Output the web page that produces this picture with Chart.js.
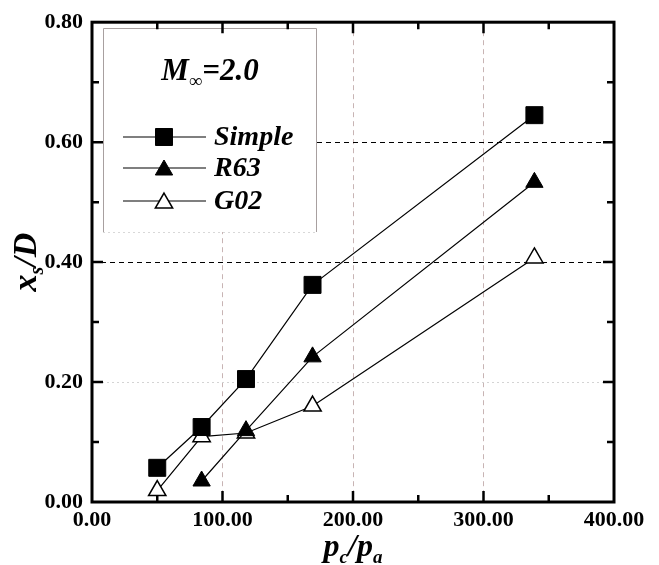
<!DOCTYPE html>
<html>
<head>
<meta charset="utf-8">
<script src="https://cdn.jsdelivr.net/npm/chart.js@4.4.0/dist/chart.umd.min.js"></script>
<style>
  html, body { margin: 0; padding: 0; background: #fff; }
  #wrap { position: relative; width: 659px; height: 565px; }
</style>
</head>
<body>
<div id="wrap"><canvas id="jetChart" width="659" height="565"></canvas></div>
<script>
// values
const pressureRatio = [50, 84, 118, 169, 339];
const simpleVals = [0.057, 0.125, 0.205, 0.362, 0.645];
const r63Vals = [null, 0.035, 0.119, 0.242, 0.533];
const g02Vals = [0.019, 0.109, 0.115, 0.16, 0.407];
const xTicks = [0, 100, 200, 300, 400];
const yTicks = [0, 0.2, 0.4, 0.6, 0.8];
const seriesNames = ["Simple", "R63", "G02"];

const SERIF = "'Liberation Serif', 'Times New Roman', serif";

function toPoints(vals) {
  return pressureRatio.map((x, i) => ({ x, y: vals[i] })).filter(p => p.y !== null);
}

// draw a run of text pieces, some of them as subscripts
function drawRich(ctx, parts, x, y, size) {
  const big = `italic bold ${size}px ${SERIF}`;
  const small = `italic bold ${Math.round(size * 0.6)}px ${SERIF}`;
  let w = 0;
  parts.forEach(p => { ctx.font = p.sub ? small : big; w += ctx.measureText(p.t).width; });
  let cx = x - w / 2;
  ctx.textAlign = "left";
  ctx.textBaseline = "alphabetic";
  parts.forEach(p => {
    ctx.font = p.sub ? small : big;
    ctx.fillText(p.t, cx, p.sub ? y + size * 0.22 : y);
    cx += ctx.measureText(p.t).width;
  });
}

const framePlugin = {
  id: "framePlugin",
  afterDatasetsDraw(chart) {
    const { ctx, chartArea: a, scales } = chart;
    const xs = scales.x, ys = scales.y;
    ctx.save();

    // legend box
    const lb = { l: 103, t: 28, r: 316, b: 232 };
    ctx.fillStyle = "#fff";
    ctx.fillRect(lb.l, lb.t, lb.r - lb.l, lb.b - lb.t);
    ctx.strokeStyle = "#a8a0a0";
    ctx.lineWidth = 1;
    ctx.beginPath();
    ctx.moveTo(lb.l + 0.5, lb.b); ctx.lineTo(lb.l + 0.5, lb.t + 0.5);
    ctx.lineTo(lb.r + 0.5, lb.t + 0.5); ctx.lineTo(lb.r + 0.5, lb.b);
    ctx.stroke();
    ctx.setLineDash([2, 3]);
    ctx.strokeStyle = "#d8d8d8";
    ctx.beginPath(); ctx.moveTo(lb.l, lb.b + 0.5); ctx.lineTo(lb.r, lb.b + 0.5); ctx.stroke();
    ctx.setLineDash([]);

    ctx.fillStyle = "#000";
    drawRich(ctx, [{ t: "M" }, { t: "\u221e", sub: true }, { t: "=2.0" }], 210, 80, 31);

    const rows = [137, 168, 201];
    chart.data.datasets.forEach((ds, i) => {
      const y = rows[i];
      ctx.strokeStyle = "#000";
      ctx.lineWidth = 1.2;
      ctx.beginPath(); ctx.moveTo(123, y); ctx.lineTo(206, y); ctx.stroke();
      ctx.fillStyle = ds.pointBackgroundColor;
      ctx.strokeStyle = ds.pointBorderColor;
      ctx.lineWidth = ds.pointBorderWidth;
      Chart.helpers.drawPoint(ctx, {
        pointStyle: ds.pointStyle, radius: ds.pointRadius, rotation: 0, borderWidth: ds.pointBorderWidth
      }, 164, y + (ds.pointStyle === "triangle" ? 2 : 0));
      ctx.fillStyle = "#000";
      ctx.font = `italic bold 28px ${SERIF}`;
      ctx.textAlign = "left";
      ctx.textBaseline = "middle";
      ctx.fillText(seriesNames[i], 214, y + 1);
    });

    // frame
    ctx.strokeStyle = "#000";
    ctx.lineWidth = 3;
    ctx.strokeRect(a.left, a.top, a.right - a.left, a.bottom - a.top);

    // inward ticks on all four sides
    ctx.lineWidth = 2.5;
    ctx.beginPath();
    for (let v = 50; v < 400; v += 50) {
      const len = v % 100 === 0 ? 11 : 7;
      const px = xs.getPixelForValue(v);
      ctx.moveTo(px, a.bottom); ctx.lineTo(px, a.bottom - len);
      ctx.moveTo(px, a.top); ctx.lineTo(px, a.top + len);
    }
    for (let k = 1; k < 8; k++) {
      const v = k / 10;
      const len = k % 2 === 0 ? 11 : 7;
      const py = ys.getPixelForValue(v);
      ctx.moveTo(a.left, py); ctx.lineTo(a.left + len, py);
      ctx.moveTo(a.right, py); ctx.lineTo(a.right - len, py);
    }
    ctx.stroke();
    ctx.restore();
  },
  afterDraw(chart) {
    const { ctx, chartArea: a } = chart;
    ctx.save();
    ctx.fillStyle = "#000";
    drawRich(ctx, [{ t: "p" }, { t: "c", sub: true }, { t: "/p" }, { t: "a", sub: true }], (a.left + a.right) / 2, 556, 32);
    ctx.translate(36, (a.top + a.bottom) / 2);
    ctx.rotate(-Math.PI / 2);
    drawRich(ctx, [{ t: "x" }, { t: "s", sub: true }, { t: "/D" }], 0, 0, 34);
    ctx.restore();
  }
};

const el = document.getElementById("jetChart");
const chart = new Chart(el.getContext("2d"), {
  type: "line",
  data: {
    datasets: [
      {
        label: seriesNames[0],
        data: toPoints(simpleVals),
        borderColor: "#000",
        borderWidth: 1.2,
        pointStyle: "rect",
        pointRadius: 12,
        pointBackgroundColor: "#000",
        pointBorderColor: "#000",
        pointBorderWidth: 1
      },
      {
        label: seriesNames[1],
        data: toPoints(r63Vals),
        borderColor: "#000",
        borderWidth: 1.2,
        pointStyle: "triangle",
        pointRadius: 10,
        pointBackgroundColor: "#000",
        pointBorderColor: "#000",
        pointBorderWidth: 1
      },
      {
        label: seriesNames[2],
        data: toPoints(g02Vals),
        borderColor: "#000",
        borderWidth: 1.2,
        pointStyle: "triangle",
        pointRadius: 10,
        pointBackgroundColor: "#fff",
        pointBorderColor: "#000",
        pointBorderWidth: 1.5
      }
    ]
  },
  options: {
    responsive: false,
    animation: false,
    devicePixelRatio: 1,
    clip: false,
    layout: { padding: { top: 17, right: 45, left: 0, bottom: 0 } },
    plugins: { legend: { display: false }, tooltip: { enabled: false } },
    scales: {
      x: {
        type: "linear",
        min: 0, max: 400,
        afterBuildTicks: s => { s.ticks = xTicks.map(v => ({ value: v })); },
        afterFit: s => { s.height = 63; },
        ticks: {
          padding: 5,
          color: "#000",
          font: { family: SERIF, size: 22, weight: "bold" },
          callback: v => Number(v).toFixed(2)
        },
        grid: {
          drawTicks: false,
          lineWidth: 1,
          color: c => (c.tick && c.tick.value > 0 && c.tick.value < 400) ? "#c8b4b4" : "rgba(0,0,0,0)"
        },
        border: { display: false, dash: [5, 4] }
      },
      y: {
        type: "linear",
        min: 0, max: 0.8,
        afterBuildTicks: s => { s.ticks = yTicks.map(v => ({ value: v })); },
        afterFit: s => { s.width = 92; },
        ticks: {
          padding: 9,
          color: "#000",
          font: { family: SERIF, size: 22, weight: "bold" },
          callback: v => Number(v).toFixed(2)
        },
        grid: {
          drawTicks: false,
          lineWidth: 1,
          color: c => {
            const v = c.tick ? Math.round(c.tick.value * 10) : -1;
            if (v === 4 || v === 6) return "#000";
            if (v === 2) return "#d4d4d4";
            return "rgba(0,0,0,0)";
          }
        },
        border: {
          display: false,
          dash: c => (c.tick && Math.round(c.tick.value * 10) === 2) ? [2, 3] : [5, 4]
        }
      }
    }
  },
  plugins: [framePlugin]
});
</script>
</body>
</html>
